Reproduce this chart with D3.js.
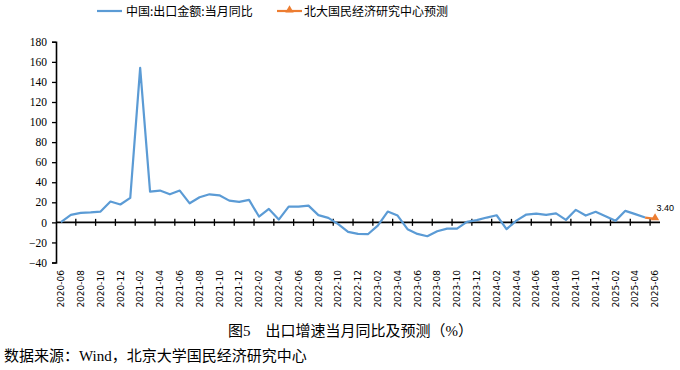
<!DOCTYPE html>
<html lang="zh">
<head>
<meta charset="UTF-8">
<title>出口增速当月同比及预测</title>
<script src="https://d3js.org/d3.v7.min.js"></script>
<style>
    body { margin: 0; background: #fff; }
    svg { display: block; }
</style>
</head>
<body>
<div id="chart"></div>
<script>
// 月份 2020-06 ~ 2025-06
const months = [];
for (let y = 2020, m = 6; y < 2025 || (y === 2025 && m <= 6); ) {
    months.push(y + "-" + String(m).padStart(2, "0"));
    m++; if (m > 12) { m = 1; y++; }
}

// 中国:出口金额:当月同比 (%)，到 2025-05
const exportYoY = [
    0.2, 7.5, 9.5, 10.0, 10.8, 20.8, 17.8, 24.4, 154.0, 30.7,
    31.7, 28.0, 31.7, 19.0, 25.0, 28.0, 27.0, 21.7, 20.5, 22.4,
    5.8, 13.4, 2.8, 15.7, 15.7, 16.7, 7.2, 4.5, -1.8, -9.5,
    -11.5, -11.8, -3.2, 10.8, 6.8, -6.8, -11.5, -13.8, -8.8, -6.2,
    -6.2, 0.5, 2.2, 4.8, 7.1, -6.8, 1.8, 7.8, 8.8, 7.5,
    8.9, 2.5, 12.5, 6.8, 10.5, 6.2, 1.5, 11.5, 8.2, 4.8
];

// 北大国民经济研究中心预测
const forecastMonths = ["2025-05", "2025-06"];
const forecastValues = [4.8, 3.40];

const yTicks = [-40, -20, 0, 20, 40, 60, 80, 100, 120, 140, 160, 180];

const width = 680, height = 370;
const svg = d3.select("#chart").append("svg")
    .attr("width", width)
    .attr("height", height);

const x = d3.scaleBand().domain(months).range([56, 660]).padding(0);
const cx = d => x(d) + x.bandwidth() / 2;
const y = d3.scaleLinear().domain([-40, 180]).range([262.5, 41.8]);

const blue = "#5B9BD5", orange = "#ED7D31";

// y 轴
const yAxis = svg.append("g")
    .attr("transform", "translate(56,0)")
    .call(d3.axisLeft(y).tickValues(yTicks).tickSize(4).tickPadding(5));
yAxis.select(".domain").attr("stroke", "#000").attr("stroke-width", 1.6);
yAxis.selectAll(".tick line").attr("stroke", "#000").attr("stroke-width", 1.3);
yAxis.selectAll("text")
    .attr("font-family", "'Liberation Serif', 'Times New Roman', serif")
    .attr("font-size", 11.5)
    .attr("fill", "#000");

// x 轴 (0 线)
const y0 = y(0);
svg.append("line")
    .attr("x1", 56).attr("x2", 660)
    .attr("y1", y0).attr("y2", y0)
    .attr("stroke", "#000").attr("stroke-width", 1.6);

// 刻度：每两个类别
const bounds = d3.range(2, months.length, 2).map(i => 56 + i * x.bandwidth());
svg.selectAll(".xtick").data(bounds).enter().append("line")
    .attr("class", "xtick")
    .attr("x1", d => d).attr("x2", d => d)
    .attr("y1", y0 - 3.5).attr("y2", y0 + 3.5)
    .attr("stroke", "#000").attr("stroke-width", 1.3);

// x 轴标签
const labelMonths = months.filter((d, i) => i % 2 === 0);
svg.selectAll(".xlabel").data(labelMonths).enter().append("text")
    .attr("class", "xlabel")
    .attr("transform", d => `translate(${cx(d) + 3.2},270) rotate(-90)`)
    .attr("text-anchor", "end")
    .attr("font-family", "'DejaVu Sans', sans-serif")
    .attr("font-size", 9)
    .attr("fill", "#000")
    .text(d => d);

// 实际值折线
const line = d3.line().x(d => cx(d[0])).y(d => y(d[1]));
svg.append("path")
    .datum(exportYoY.map((v, i) => [months[i], v]))
    .attr("d", line)
    .attr("fill", "none")
    .attr("stroke", blue)
    .attr("stroke-width", 2.2)
    .attr("stroke-linejoin", "round");

// 预测
const fc = forecastMonths.map((m, i) => [m, forecastValues[i]]);
svg.append("path")
    .datum(fc)
    .attr("d", line)
    .attr("fill", "none")
    .attr("stroke", orange)
    .attr("stroke-width", 2.2);
const tri = d3.symbol().type(d3.symbolTriangle).size(30);
svg.append("path")
    .attr("d", tri())
    .attr("transform", `translate(${cx(fc[1][0])},${y(fc[1][1]) - 1})`)
    .attr("fill", orange);
svg.append("text")
    .attr("x", cx(fc[1][0]) + 1.5)
    .attr("y", y(fc[1][1]) - 8)
    .attr("font-family", "'Liberation Sans', Arial, sans-serif")
    .attr("font-size", 9)
    .attr("fill", "#000")
    .text(forecastValues[1].toFixed(2));

// 图例
const legendFont = "'Noto Sans CJK SC', sans-serif";
const lg = svg.append("g");
lg.append("line").attr("x1", 97).attr("x2", 122).attr("y1", 11).attr("y2", 11)
    .attr("stroke", blue).attr("stroke-width", 2.2);
lg.append("text").attr("x", 126).attr("y", 15.5)
    .attr("font-family", legendFont).attr("font-size", 12).attr("fill", "#000")
    .text("中国:出口金额:当月同比");
lg.append("line").attr("x1", 277).attr("x2", 302).attr("y1", 11).attr("y2", 11)
    .attr("stroke", orange).attr("stroke-width", 2.2);
lg.append("path").attr("d", tri()).attr("transform", "translate(289.5,10)").attr("fill", orange);
lg.append("text").attr("x", 304).attr("y", 15.5)
    .attr("font-family", legendFont).attr("font-size", 12).attr("fill", "#000")
    .text("北大国民经济研究中心预测");

// 图题与来源
svg.append("text")
    .attr("x", 228).attr("y", 336)
    .attr("font-family", "'Liberation Serif', 'Noto Sans CJK SC', serif")
    .attr("font-size", 15).attr("fill", "#000")
    .text("图5　出口增速当月同比及预测（%）");
svg.append("text")
    .attr("x", 4).attr("y", 361)
    .attr("font-family", "'Liberation Serif', 'Noto Sans CJK SC', serif")
    .attr("font-size", 15).attr("fill", "#000")
    .text("数据来源：Wind，北京大学国民经济研究中心");
</script>
</body>
</html>
